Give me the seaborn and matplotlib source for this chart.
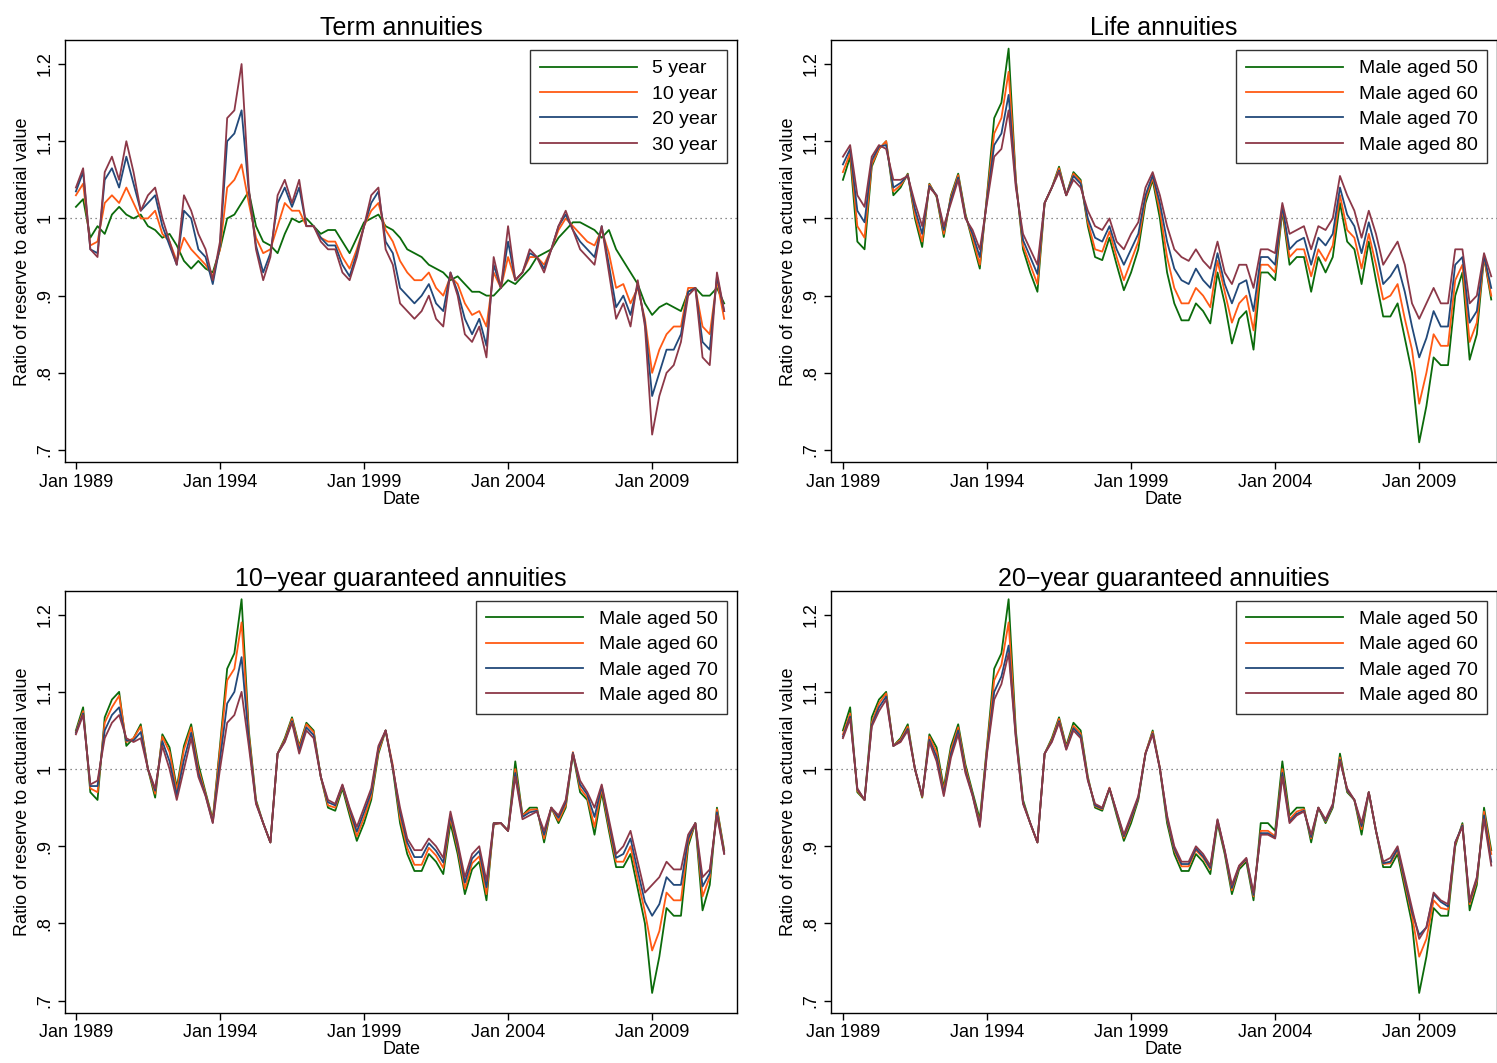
import numpy as np
import pandas as pd
import matplotlib
matplotlib.use('Agg')
import matplotlib.pyplot as plt
import seaborn as sns

# quarterly readings, Jan 1989 .. Jul 2011
term_5 = [1.015, 1.025, .975, .99, .98, 1.005, 1.015, 1.005, 1.0, 1.005, .99, .985,
          .975, .98, .965, .945, .935, .945, .935, .93, .96, 1.0, 1.005, 1.02,
          1.035, .99, .97, .965, .955, .98, 1.0, .995, 1.0, .99, .98, .985,
          .985, .97, .955, .975, .995, 1.0, 1.005, .99, .985, .975, .96, .955,
          .95, .94, .935, .93, .92, .925, .915, .905, .905, .9, .9, .91,
          .92, .915, .925, .935, .95, .955, .96, .975, .985, .995, .995, .99,
          .985, .975, .985, .96, .945, .93, .915, .89, .875, .885, .89, .885,
          .88, .905, .91, .9, .9, .91, .89]
term_10 = [1.03, 1.045, .965, .97, 1.02, 1.03, 1.02, 1.04, 1.02, 1.0, 1.0, 1.01,
           .98, .97, .945, .975, .96, .95, .94, .925, .96, 1.04, 1.05, 1.07,
           1.02, .975, .955, .96, .99, 1.02, 1.01, 1.01, .99, .99, .975, .97,
           .97, .95, .935, .96, .99, 1.01, 1.02, .985, .97, .945, .93, .92,
           .92, .93, .91, .9, .925, .915, .89, .875, .88, .86, .93, .91,
           .95, .92, .93, .95, .95, .94, .96, .985, 1.0, .99, .98, .97,
           .965, .985, .955, .91, .915, .89, .91, .87, .8, .83, .85, .86,
           .86, .91, .91, .86, .85, .92, .87]
term_20 = [1.035, 1.06, .96, .955, 1.05, 1.065, 1.04, 1.08, 1.045, 1.01, 1.02, 1.03,
           .99, .965, .94, 1.01, 1.0, .96, .95, .915, .965, 1.1, 1.11, 1.14,
           1.035, .965, .93, .955, 1.02, 1.04, 1.015, 1.04, .99, .99, .975, .965,
           .965, .94, .925, .955, .99, 1.02, 1.035, .97, .955, .91, .9, .89,
           .9, .915, .89, .88, .93, .905, .87, .85, .87, .835, .94, .91,
           .97, .92, .93, .955, .95, .935, .96, .99, 1.005, .985, .97, .96,
           .95, .99, .94, .885, .9, .875, .915, .865, .77, .8, .83, .83,
           .85, .905, .91, .84, .83, .925, .88]
term_30 = [1.04, 1.065, .96, .95, 1.06, 1.08, 1.05, 1.1, 1.06, 1.01, 1.03, 1.04,
           1.0, .97, .94, 1.03, 1.01, .98, .96, .92, .97, 1.13, 1.14, 1.2,
           1.04, .96, .92, .95, 1.03, 1.05, 1.02, 1.05, .99, .99, .97, .96,
           .96, .93, .92, .95, .99, 1.03, 1.04, .96, .94, .89, .88, .87,
           .88, .9, .87, .86, .93, .9, .85, .84, .86, .82, .95, .91,
           .99, .92, .93, .96, .95, .93, .96, .99, 1.01, .985, .96, .95,
           .94, .99, .93, .87, .89, .86, .92, .86, .72, .77, .8, .81,
           .84, .9, .91, .82, .81, .93, .88]

life_50 = [1.05, 1.08, .97, .96, 1.067, 1.09, 1.1, 1.03, 1.04, 1.058, 1.0, .963,
           1.045, 1.028, .976, 1.03, 1.058, 1.006, .97, .935, 1.03, 1.13, 1.15, 1.22,
           1.05, .96, .93, .905, 1.02, 1.04, 1.067, 1.03, 1.06, 1.05, .99, .95,
           .946, .975, .94, .907, .93, .96, 1.02, 1.05, 1.0, .93, .89, .868,
           .868, .89, .88, .864, .93, .89, .838, .87, .88, .83, .93, .93,
           .92, 1.01, .94, .95, .95, .905, .95, .93, .95, 1.02, .97, .96,
           .915, .97, .92, .873, .873, .89, .845, .8, .71, .757, .82, .81,
           .81, .9, .93, .817, .85, .95, .895]
life_60 = [1.06, 1.085, .99, .975, 1.07, 1.09, 1.1, 1.035, 1.043, 1.057, 1.005, .97,
           1.044, 1.029, .98, 1.028, 1.056, 1.004, .975, .94, 1.028, 1.11, 1.13, 1.19,
           1.05, .965, .94, .915, 1.02, 1.04, 1.065, 1.03, 1.058, 1.048, .995, .96,
           .957, .983, .95, .92, .945, .97, 1.025, 1.053, 1.01, .95, .91, .89,
           .89, .91, .9, .885, .945, .905, .865, .89, .9, .855, .94, .94,
           .93, 1.013, .95, .96, .96, .925, .96, .945, .965, 1.03, .985, .975,
           .935, .98, .94, .895, .9, .915, .87, .83, .76, .8, .85, .835,
           .835, .92, .94, .84, .865, .95, .9]
life_70 = [1.07, 1.09, 1.01, .995, 1.075, 1.093, 1.095, 1.04, 1.046, 1.056, 1.012, .98,
           1.042, 1.03, .985, 1.025, 1.053, 1.002, .98, .95, 1.024, 1.095, 1.11, 1.16,
           1.045, .972, .95, .928, 1.02, 1.04, 1.062, 1.03, 1.055, 1.045, 1.0, .975,
           .97, .99, .96, .94, .96, .98, 1.03, 1.056, 1.02, .97, .935, .92,
           .915, .935, .92, .91, .955, .915, .89, .915, .92, .88, .95, .95,
           .94, 1.016, .96, .97, .975, .94, .975, .965, .98, 1.04, 1.005, .99,
           .955, .995, .96, .915, .925, .94, .905, .86, .82, .845, .88, .86,
           .86, .94, .95, .865, .88, .952, .91]
life_80 = [1.08, 1.095, 1.03, 1.015, 1.08, 1.095, 1.09, 1.05, 1.05, 1.055, 1.02, .99,
           1.04, 1.03, .99, 1.02, 1.05, 1.0, .985, .96, 1.02, 1.08, 1.09, 1.14,
           1.04, .98, .96, .94, 1.02, 1.04, 1.06, 1.03, 1.05, 1.04, 1.01, .99,
           .985, 1.0, .97, .96, .98, .995, 1.04, 1.06, 1.03, .99, .96, .95,
           .945, .96, .945, .935, .97, .93, .915, .94, .94, .91, .96, .96,
           .955, 1.02, .98, .985, .99, .96, .99, .985, 1.0, 1.055, 1.03, 1.01,
           .975, 1.01, .98, .94, .955, .97, .94, .89, .87, .89, .91, .89,
           .89, .96, .96, .89, .9, .955, .925]

g10_50 = list(life_50)
g10_60 = [1.048, 1.075, .975, .97, 1.06, 1.08, 1.095, 1.035, 1.04, 1.055, 1.0, .968,
          1.042, 1.022, .972, 1.025, 1.054, 1.0, .968, .933, 1.025, 1.115, 1.13, 1.19,
          1.045, .958, .93, .905, 1.02, 1.038, 1.065, 1.028, 1.058, 1.048, .99, .953,
          .95, .978, .945, .913, .937, .965, 1.023, 1.05, 1.005, .937, .898, .876,
          .876, .898, .888, .872, .937, .897, .845, .878, .887, .838, .928, .93,
          .92, 1.0, .94, .947, .948, .91, .95, .933, .953, 1.022, .975, .963,
          .925, .975, .925, .88, .88, .9, .857, .815, .765, .79, .84, .83,
          .83, .905, .93, .835, .86, .948, .893]
g10_70 = [1.047, 1.072, .978, .978, 1.05, 1.07, 1.08, 1.037, 1.037, 1.048, 1.0, .972,
          1.036, 1.01, .966, 1.012, 1.047, .995, .966, .931, 1.012, 1.085, 1.1, 1.145,
          1.038, .956, .93, .905, 1.02, 1.036, 1.062, 1.024, 1.054, 1.044, .99, .957,
          .953, .979, .948, .919, .944, .97, 1.027, 1.05, 1.002, .944, .905, .886,
          .886, .904, .894, .879, .941, .901, .853, .884, .894, .847, .929, .93,
          .92, .995, .938, .944, .946, .915, .95, .937, .957, 1.021, .98, .967,
          .938, .978, .93, .885, .89, .91, .868, .828, .81, .825, .86, .85,
          .85, .91, .93, .848, .865, .944, .891]
g10_80 = [1.045, 1.07, .98, .985, 1.04, 1.06, 1.07, 1.04, 1.035, 1.04, 1.0, .975,
          1.03, 1.0, .96, 1.0, 1.04, .99, .965, .93, 1.0, 1.06, 1.07, 1.1,
          1.03, .955, .93, .905, 1.02, 1.035, 1.06, 1.02, 1.05, 1.04, .99, .96,
          .955, .98, .95, .925, .95, .975, 1.03, 1.05, 1.0, .95, .91, .895,
          .895, .91, .9, .885, .945, .905, .86, .89, .9, .855, .93, .93,
          .92, .99, .935, .94, .945, .92, .95, .94, .96, 1.02, .985, .97,
          .95, .98, .935, .89, .9, .92, .88, .84, .85, .86, .88, .87,
          .87, .915, .93, .86, .87, .94, .89]

g20_50 = list(life_50)
g20_60 = [1.045, 1.072, .972, .96, 1.06, 1.085, 1.098, 1.03, 1.038, 1.055, 1.0, .964,
          1.042, 1.022, .972, 1.025, 1.054, 1.002, .967, .93, 1.027, 1.115, 1.135, 1.19,
          1.045, .957, .93, .905, 1.02, 1.038, 1.065, 1.028, 1.056, 1.046, .988, .952,
          .948, .976, .943, .911, .935, .962, 1.021, 1.048, 1.002, .935, .895, .874,
          .874, .895, .885, .87, .933, .893, .843, .873, .883, .835, .92, .92,
          .913, 1.0, .935, .945, .948, .91, .95, .932, .952, 1.015, .972, .96,
          .922, .97, .92, .877, .878, .895, .852, .81, .757, .78, .83, .82,
          .818, .903, .928, .825, .855, .945, .89]
g20_70 = [1.042, 1.068, .974, .96, 1.057, 1.08, 1.094, 1.03, 1.036, 1.052, 1.0, .965,
          1.038, 1.016, .968, 1.02, 1.05, .998, .966, .927, 1.023, 1.1, 1.12, 1.16,
          1.042, .956, .93, .905, 1.02, 1.036, 1.062, 1.026, 1.053, 1.043, .986, .953,
          .949, .975, .944, .913, .937, .963, 1.02, 1.046, 1.001, .937, .897, .877,
          .877, .897, .887, .872, .934, .894, .846, .874, .884, .837, .917, .917,
          .911, .995, .932, .942, .946, .912, .95, .933, .953, 1.012, .973, .96,
          .926, .97, .92, .878, .88, .897, .856, .815, .785, .795, .838, .828,
          .822, .905, .927, .828, .858, .94, .88]
g20_80 = [1.04, 1.065, .975, .96, 1.055, 1.075, 1.09, 1.03, 1.035, 1.05, 1.0, .965,
          1.035, 1.01, .965, 1.015, 1.045, .995, .965, .925, 1.02, 1.09, 1.11, 1.15,
          1.04, .955, .93, .905, 1.02, 1.035, 1.06, 1.025, 1.05, 1.04, .985, .955,
          .95, .975, .945, .915, .94, .965, 1.02, 1.045, 1.0, .94, .9, .88,
          .88, .9, .89, .875, .935, .895, .85, .875, .885, .84, .915, .915,
          .91, .99, .93, .94, .945, .915, .95, .935, .955, 1.01, .975, .96,
          .93, .97, .92, .88, .885, .9, .86, .82, .78, .795, .84, .83,
          .825, .905, .925, .83, .86, .935, .875]

term_labels = ['5 year', '10 year', '20 year', '30 year']
age_labels = ['Male aged 50', 'Male aged 60', 'Male aged 70', 'Male aged 80']
colors = ['#0b6b0b', '#ff5a14', '#22497a', '#8c3848']
years = 1989 + 0.25 * np.arange(91)

plt.rcParams['font.family'] = ['Liberation Sans', 'DejaVu Sans']

panels = [
    ('Term annuities', term_labels, [term_5, term_10, term_20, term_30],
     [0.0434, 0.565, 0.449, 0.397], (1988.62, 2011.95)),
    ('Life annuities', age_labels, [life_50, life_60, life_70, life_80],
     [0.555, 0.565, 0.445, 0.397], (1988.58, 2011.7)),
    ('10\u2212year guaranteed annuities', age_labels, [g10_50, g10_60, g10_70, g10_80],
     [0.0434, 0.047, 0.449, 0.397], (1988.62, 2011.95)),
    ('20\u2212year guaranteed annuities', age_labels, [g20_50, g20_60, g20_70, g20_80],
     [0.555, 0.047, 0.445, 0.397], (1988.58, 2011.7)),
]

fig = plt.figure(figsize=(14.97, 10.63), dpi=100)
for title, labels, series, pos, xlim in panels:
    ax = fig.add_axes(pos)
    frames = []
    for lab, vals in zip(labels, series):
        n = min(len(vals), len(years))
        frames.append(pd.DataFrame({'date': years[:n], 'ratio': vals[:n], 'series': lab}))
    df = pd.concat(frames)
    ax.axhline(1.0, color='#666666', linestyle=(0, (1, 3)), linewidth=0.9)
    sns.lineplot(data=df, x='date', y='ratio', hue='series', hue_order=labels,
                 palette=colors, linewidth=1.3, ax=ax)
    ax.set_xlim(*xlim)
    ax.set_ylim(0.684, 1.2306)
    ax.set_xticks([1989, 1994, 1999, 2004, 2009])
    ax.set_xticklabels(['Jan 1989', 'Jan 1994', 'Jan 1999', 'Jan 2004', 'Jan 2009'], fontsize=13)
    ax.set_yticks([0.7, 0.8, 0.9, 1.0, 1.1, 1.2])
    ax.set_yticklabels(['.7', '.8', '.9', '1', '1.1', '1.2'], fontsize=13,
                       rotation=90, va='center')
    ax.tick_params(direction='out', length=5, width=1, pad=3)
    ax.set_xlabel('Date', fontsize=13, labelpad=0)
    ax.set_ylabel('Ratio of reserve to actuarial value', fontsize=13, labelpad=4)
    ax.set_title(title, fontsize=18, pad=3)
    for s in ax.spines.values():
        s.set_color('black')
        s.set_linewidth(1)
    leg = ax.legend(loc='upper right', fontsize=14, frameon=True, fancybox=False,
                    handlelength=5.0, borderpad=0.5, labelspacing=0.4,
                    borderaxespad=0.5)
    leg.get_frame().set_edgecolor('black')
    leg.get_frame().set_linewidth(1)

fig.savefig('out.png', dpi=100, facecolor='white')
